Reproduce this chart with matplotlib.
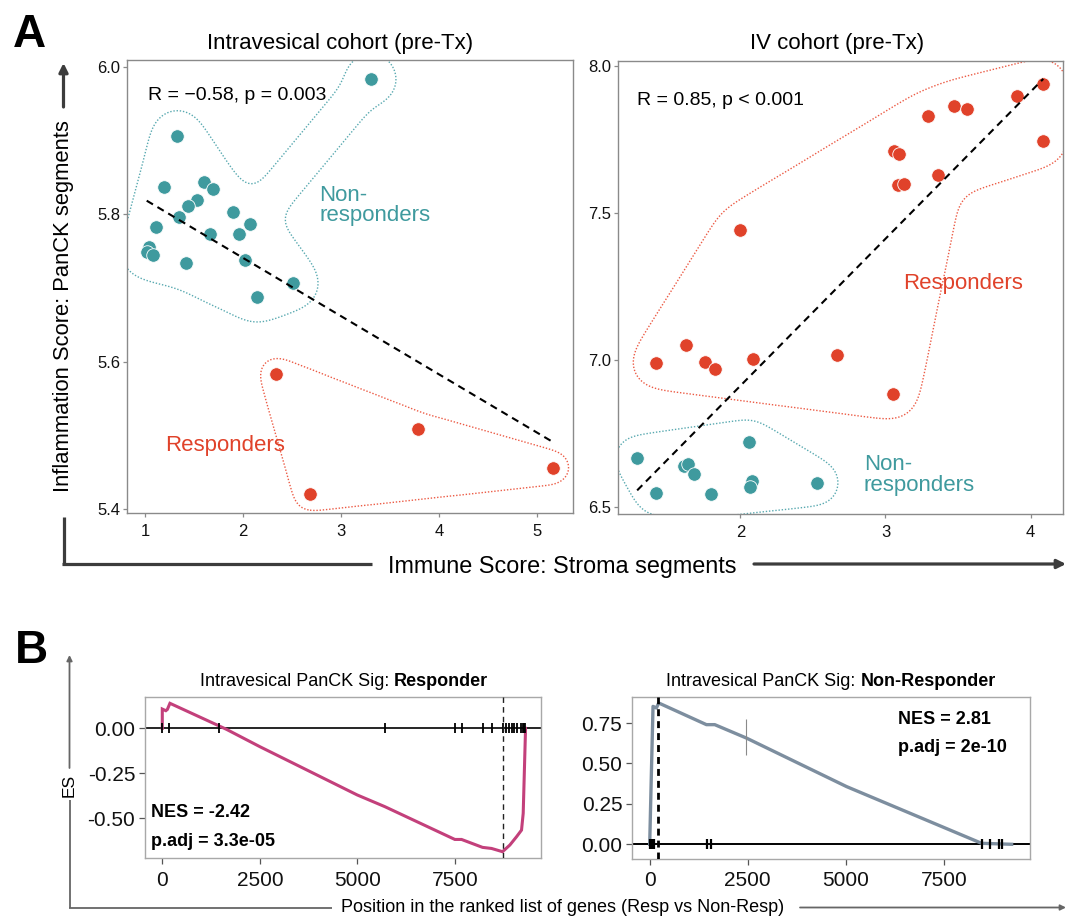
import matplotlib
matplotlib.use("Agg")
import matplotlib.pyplot as plt
import matplotlib.tri as mtri
import numpy as np
from matplotlib.lines import Line2D
from matplotlib.patches import FancyArrowPatch
from matplotlib.path import Path

plt.rcParams['font.family'] = ['Liberation Sans', 'DejaVu Sans']

# ---------------- data ----------------
# Panel A, intravesical cohort
iv_non_x = [3.304, 1.33, 1.197, 1.60, 1.69, 1.527, 1.44, 1.347, 1.109, 1.894,
            2.07, 1.955, 1.66, 1.044, 1.017, 1.078, 1.42, 2.016, 2.51, 2.142]
iv_non_y = [5.983, 5.906, 5.837, 5.843, 5.834, 5.819, 5.811, 5.796, 5.782, 5.803,
            5.786, 5.773, 5.773, 5.755, 5.748, 5.745, 5.734, 5.738, 5.706, 5.688]
iv_resp_x = [2.339, 3.787, 5.163, 2.686]
iv_resp_y = [5.583, 5.508, 5.456, 5.420]

# Panel A, IV cohort
ivc_resp_x = [4.087, 3.904, 3.475, 3.56, 3.291, 4.083, 3.06, 3.094, 3.362, 3.089,
              3.126, 2.0, 1.626, 1.422, 1.759, 1.823, 2.087, 2.665, 3.055]
ivc_resp_y = [7.941, 7.899, 7.865, 7.854, 7.830, 7.745, 7.711, 7.700, 7.630, 7.595,
              7.600, 7.444, 7.049, 6.988, 6.994, 6.970, 7.0015, 7.018, 6.883]
ivc_non_x = [2.062, 1.289, 1.61, 1.64, 1.683, 2.08, 2.064, 2.528, 1.422, 1.80]
ivc_non_y = [6.720, 6.665, 6.639, 6.645, 6.612, 6.589, 6.566, 6.581, 6.547, 6.542]

# Panel B, running enrichment scores
resp_pos = [0, 0, 90, 130, 196, 1460, 1648, 2501, 4995, 5703, 7496, 7667, 8205,
            8436, 8717, 8905, 9076, 9204, 9247, 9306, 9306]
resp_es = [0.0, 0.107, 0.098, 0.105, 0.139, 0.013, -0.006, -0.102, -0.370, -0.435,
           -0.617, -0.617, -0.661, -0.667, -0.685, -0.648, -0.602, -0.565, -0.472,
           -0.009, 0.0]
resp_hits = [0, 179, 1460, 5704, 7505, 7667, 8205, 8436, 8717, 8803, 8871, 8948,
             9016, 9093, 9178, 9230, 9264, 9290]
resp_peak = 8717

non_pos = [0, 43, 85, 170, 230, 1446, 1658, 2466, 5017, 8461, 9226]
non_es = [0.0, 0.44, 0.853, 0.843, 0.874, 0.740, 0.740, 0.657, 0.357, 0.006, 0.0]
non_hits = [17, 40, 60, 85, 102, 1471, 1573, 8461, 8673, 8912, 8980]
non_peak = 213

TEAL = '#3f9a9e'
RED = '#e0422a'
TEAL_L = '#58a9b0'
RED_L = '#ec5a44'

FW, FH = 1072, 918
fig = plt.figure(figsize=(FW / 100, FH / 100), dpi=100)


def rect(l, t, r, b):
    return [l / FW, 1 - b / FH, (r - l) / FW, (b - t) / FH]


def seg_dist(Q, a, b):
    ab = b - a
    ll = max(ab @ ab, 1e-9)
    tt = np.clip(((Q - a) @ ab) / ll, 0, 1)
    proj = a + tt[:, None] * ab
    return np.hypot(Q[:, 0] - proj[:, 0], Q[:, 1] - proj[:, 1])


def hull(ax, xs, ys, r, L, color, sigma=6.0, r_neck=None):
    # concave-ish hull: short Delaunay triangles + spanning tree, dilated and smoothed
    if r_neck is None:
        r_neck = r
    xs = np.asarray(xs, float)
    ys = np.asarray(ys, float)
    bb = ax.get_position()
    W, H = bb.width * FW, bb.height * FH
    x0, x1 = ax.get_xlim()
    y0, y1 = ax.get_ylim()
    px = (xs - x0) / (x1 - x0) * W
    py = (ys - y0) / (y1 - y0) * H
    pts = np.column_stack([px, py])
    tri = mtri.Triangulation(px, py)
    keep = []
    segs = [(p, p) for p in pts]
    for t in tri.triangles:
        a, b, c = pts[t]
        e = max(np.hypot(*(a - b)), np.hypot(*(b - c)), np.hypot(*(c - a)))
        if e < L:
            keep.append(t)
            segs += [(a, b), (b, c), (c, a)]
    n = len(pts)
    D = np.hypot(pts[:, None, 0] - pts[None, :, 0], pts[:, None, 1] - pts[None, :, 1])
    tree = [0]
    mst = []
    while len(tree) < n:
        rest = [j for j in range(n) if j not in tree]
        sub = D[np.ix_(tree, rest)]
        i, j = np.unravel_index(np.argmin(sub), sub.shape)
        mst.append((pts[tree[i]], pts[rest[j]]))
        tree.append(rest[j])
    step = 1.5
    gx = np.arange(-90, W + 90, step)
    gy = np.arange(-90, H + 90, step)
    GX, GY = np.meshgrid(gx, gy)
    Q = np.column_stack([GX.ravel(), GY.ravel()])
    d1 = np.full(len(Q), np.inf)
    for a, b in segs:
        d1 = np.minimum(d1, seg_dist(Q, a, b))
    d2 = np.full(len(Q), np.inf)
    for a, b in mst:
        d2 = np.minimum(d2, seg_dist(Q, a, b))
    inside = (d1 <= r) | (d2 <= r_neck)
    for t in keep:
        inside |= Path(pts[t]).contains_points(Q)
    field = inside.astype(float).reshape(GX.shape)
    s = sigma / step
    k = np.arange(-int(4 * s), int(4 * s) + 1)
    ker = np.exp(-0.5 * (k / s) ** 2)
    ker /= ker.sum()
    field = np.apply_along_axis(lambda m: np.convolve(m, ker, mode='same'), 0, field)
    field = np.apply_along_axis(lambda m: np.convolve(m, ker, mode='same'), 1, field)
    X = x0 + GX / W * (x1 - x0)
    Y = y0 + GY / H * (y1 - y0)
    ax.contour(X, Y, field, levels=[0.5], colors=color, linewidths=1.0,
               linestyles=[(0, (1, 1.3))], zorder=1)


def style_a(ax):
    for sp in ax.spines.values():
        sp.set_color('#8a8a8a')
        sp.set_linewidth(1.0)
    ax.tick_params(axis='both', length=3, width=0.9, color='#8a8a8a',
                   labelsize=12, labelcolor='#111111')
    ax.tick_params(axis='x', pad=5)
    ax.tick_params(axis='y', pad=2)


def scatter_panel(ax, gx, gy, ax_, ay_, xlim, ylim, xticks, yticks):
    ax.set_xlim(*xlim)
    ax.set_ylim(*ylim)
    ax.set_xticks(xticks)
    ax.set_yticks(yticks)
    ax.set_yticklabels(['%.1f' % v for v in yticks])
    allx = np.array(gx + ax_)
    ally = np.array(gy + ay_)
    m, c = np.polyfit(allx, ally, 1)
    xx = np.array([allx.min(), allx.max()])
    ax.plot(xx, m * xx + c, color='black', lw=1.5, ls=(0, (3.5, 2.5)), zorder=4)
    style_a(ax)


# ---------------- Panel A left ----------------
axA1 = fig.add_axes(rect(127, 60, 573, 513))
scatter_panel(axA1, iv_non_x, iv_non_y, iv_resp_x, iv_resp_y,
              (0.816, 5.367), (5.3946, 6.009), [1, 2, 3, 4, 5], [5.4, 5.6, 5.8, 6.0])
axA1.scatter(iv_non_x, iv_non_y, s=95, color=TEAL, edgecolor='white', lw=0.6, zorder=3)
axA1.scatter(iv_resp_x, iv_resp_y, s=95, color=RED, edgecolor='white', lw=0.6, zorder=3)
hull(axA1, iv_non_x, iv_non_y, r=27, L=80, color=TEAL_L, sigma=10, r_neck=19)
hull(axA1, iv_resp_x, iv_resp_y, r=17, L=250, color=RED_L, sigma=7)
axA1.text(0.046, 0.921, 'R = \u22120.58, p = 0.003', transform=axA1.transAxes,
          fontsize=14, va='center', ha='left')
axA1.text(0.4305, 0.678, 'Non-\nresponders', transform=axA1.transAxes, fontsize=16,
          color=TEAL, va='center', ha='left', linespacing=0.95)
axA1.text(0.085, 0.150, 'Responders', transform=axA1.transAxes, fontsize=16,
          color=RED, va='center', ha='left')

# ---------------- Panel A right ----------------
axA2 = fig.add_axes(rect(618, 61, 1063, 514))
scatter_panel(axA2, ivc_resp_x, ivc_resp_y, ivc_non_x, ivc_non_y,
              (1.157, 4.223), (6.475, 8.018), [2, 3, 4], [6.5, 7.0, 7.5, 8.0])
axA2.scatter(ivc_resp_x, ivc_resp_y, s=95, color=RED, edgecolor='white', lw=0.6, zorder=3)
axA2.scatter(ivc_non_x, ivc_non_y, s=95, color=TEAL, edgecolor='white', lw=0.6, zorder=3)
hull(axA2, ivc_resp_x, ivc_resp_y, r=26, L=250, color=RED_L, sigma=12, r_neck=22)
hull(axA2, ivc_non_x, ivc_non_y, r=23, L=250, color=TEAL_L, sigma=9)
axA2.text(0.043, 0.912, 'R = 0.85, p < 0.001', transform=axA2.transAxes,
          fontsize=14, va='center', ha='left')
axA2.text(0.641, 0.509, 'Responders', transform=axA2.transAxes, fontsize=16,
          color=RED, va='center', ha='left')
axA2.text(0.552, 0.086, 'Non-\nresponders', transform=axA2.transAxes, fontsize=16,
          color=TEAL, va='center', ha='left', linespacing=0.95)

fig.text(340 / FW, 1 - 43 / FH, 'Intravesical cohort (pre-Tx)', fontsize=16,
         ha='center', va='center')
fig.text(837 / FW, 1 - 43 / FH, 'IV cohort (pre-Tx)', fontsize=16,
         ha='center', va='center')


def fline(x0, y0, x1, y1, color, lw, head=False, hs=10):
    if head:
        a = FancyArrowPatch((x0 / FW, 1 - y0 / FH), (x1 / FW, 1 - y1 / FH),
                            transform=fig.transFigure, arrowstyle='-|>',
                            mutation_scale=hs, color=color, lw=lw,
                            shrinkA=0, shrinkB=0)
        fig.add_artist(a)
    else:
        fig.add_artist(Line2D([x0 / FW, x1 / FW], [1 - y0 / FH, 1 - y1 / FH],
                              transform=fig.transFigure, color=color, lw=lw,
                              solid_capstyle='butt'))


# panel A axis arrows
AC = '#3c3c3c'
fline(63.5, 565, 63.5, 517, AC, 2.3)
fline(63.5, 107, 63.5, 63, AC, 2.3, head=True, hs=13)
fline(62.3, 564, 372, 564, AC, 2.3)
fline(754, 564, 1066, 564, AC, 2.3, head=True, hs=13)
fig.text(63.5 / FW, 1 - 306.5 / FH, 'Inflammation Score: PanCK segments', rotation=90,
         fontsize=15.8, ha='center', va='center')
fig.text(562 / FW, 1 - 566 / FH, 'Immune Score: Stroma segments', fontsize=16.8,
         ha='center', va='center')

fig.text(13 / FW, 1 - 47 / FH, 'A', fontsize=33, fontweight='bold', ha='left',
         va='baseline')
fig.text(15 / FW, 1 - 663 / FH, 'B', fontsize=33, fontweight='bold', ha='left',
         va='baseline')


# ---------------- Panel B ----------------
def style_b(ax):
    for sp in ax.spines.values():
        sp.set_color('#a8a8a8')
        sp.set_linewidth(1.0)
    ax.tick_params(axis='both', length=4, width=0.9, color='#555555',
                   labelsize=15, labelcolor='#111111')
    ax.tick_params(axis='x', pad=5)
    ax.tick_params(axis='y', pad=3)
    ax.set_xticks([0, 2500, 5000, 7500])


axB1 = fig.add_axes(rect(145, 697, 541, 858))
axB1.set_xlim(-443, 9703)
axB1.set_ylim(-0.72, 0.174)
axB1.set_yticks([0.0, -0.25, -0.5])
axB1.set_yticklabels(['0.00', '-0.25', '-0.50'])
axB1.axhline(0, color='black', lw=1.2, zorder=2)
axB1.plot(resp_pos, resp_es, color='#c3407b', lw=2.2, zorder=3, solid_joinstyle='miter')
axB1.vlines(resp_hits, -0.028, 0.028, color='black', lw=1.3, zorder=4)
axB1.axvline(resp_peak, color='#222222', lw=1.0, ls=(0, (4, 3)), zorder=4)
axB1.text(0.015, 0.28, 'NES = -2.42', transform=axB1.transAxes, fontsize=13,
          fontweight='bold', va='center', ha='left')
axB1.text(0.015, 0.10, 'p.adj = 3.3e-05', transform=axB1.transAxes, fontsize=13,
          fontweight='bold', va='center', ha='left')
style_b(axB1)

axB2 = fig.add_axes(rect(632, 697, 1030, 859))
axB2.set_xlim(-451, 9694)
axB2.set_ylim(-0.091, 0.911)
axB2.set_yticks([0.0, 0.25, 0.5, 0.75])
axB2.set_yticklabels(['0.00', '0.25', '0.50', '0.75'])
axB2.axhline(0, color='black', lw=1.4, zorder=2)
axB2.plot(non_pos, non_es, color='#7d8e9f', lw=2.4, zorder=3)
axB2.vlines(non_hits, -0.031, 0.031, color='black', lw=1.6, zorder=4)
axB2.vlines([2466], 0.554, 0.777, color='#8a8a8a', lw=0.8, zorder=4)
axB2.axvline(non_peak, color='black', lw=2.0, ls=(0, (2.5, 1.8)), zorder=4)
axB2.text(0.668, 0.864, 'NES = 2.81', transform=axB2.transAxes, fontsize=13,
          fontweight='bold', va='center', ha='left')
axB2.text(0.668, 0.69, 'p.adj = 2e-10', transform=axB2.transAxes, fontsize=13,
          fontweight='bold', va='center', ha='left')
style_b(axB2)


def two_part_title(cx, cy, normal, bold):
    r = fig.canvas.get_renderer()
    t1 = fig.text(0, 1 - cy / FH, normal, fontsize=13, ha='left', va='center')
    t2 = fig.text(0, 1 - cy / FH, bold, fontsize=13, fontweight='bold',
                  ha='left', va='center')
    w1 = t1.get_window_extent(r).width
    w2 = t2.get_window_extent(r).width
    start = cx - (w1 + w2) / 2
    t1.set_x(start / FW)
    t2.set_x((start + w1) / FW)


two_part_title(344, 682, 'Intravesical PanCK Sig: ', 'Responder')
two_part_title(831, 682, 'Intravesical PanCK Sig: ', 'Non-Responder')

BC = '#666666'
fline(69.5, 908, 69.5, 800, BC, 1.3)
fline(69.5, 768, 69.5, 655, BC, 1.3, head=True, hs=8)
fline(68.8, 907.5, 332, 907.5, BC, 1.3)
fline(800, 907.5, 1066, 907.5, BC, 1.3, head=True, hs=8)
fig.text(69 / FW, 1 - 785 / FH, 'ES', rotation=90, fontsize=12.5, ha='center',
         va='center')
fig.text(562.5 / FW, 1 - 907 / FH, 'Position in the ranked list of genes (Resp vs Non-Resp)',
         fontsize=13, ha='center', va='center')

fig.savefig('out.png', dpi=100)
